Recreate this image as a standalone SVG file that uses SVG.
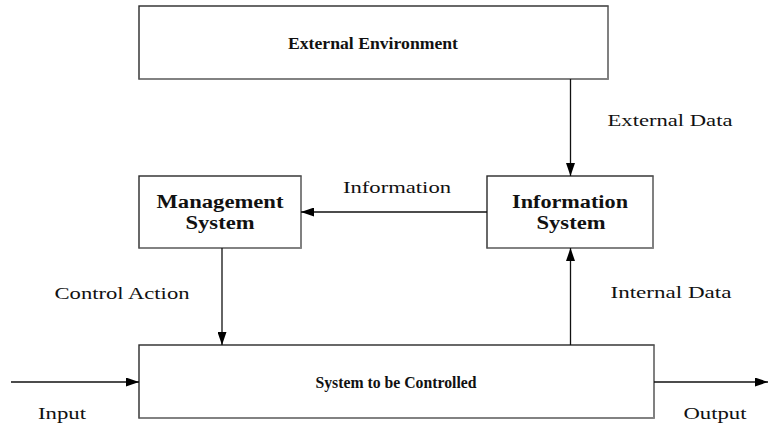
<svg xmlns="http://www.w3.org/2000/svg" width="768" height="423" viewBox="0 0 768 423">
  <style>
    .box { fill: #fff; stroke: #2a2a2a; stroke-width: 1.4; }
    .shade { fill: none; stroke: #8a8a8a; stroke-width: 1.4; }
    .title { font-family: "Liberation Serif", "Times New Roman", serif; font-size: 18px; font-weight: bold; fill: #111; text-anchor: middle; }
    .title.wide { font-size: 17px; }
    .label { font-family: "Liberation Serif", "Times New Roman", serif; font-size: 17px; fill: #111; text-anchor: middle; }
    .wire { fill: none; stroke: #111; stroke-width: 1.3; marker-end: url(#head); }
  </style>
  <defs>
    <marker id="head" viewBox="0 0 13 9" refX="13" refY="4.5" markerWidth="13" markerHeight="9" markerUnits="userSpaceOnUse" orient="auto">
      <path d="M0,0 L13,4.5 L0,9 z" fill="#000"/>
    </marker>
  </defs>

  <g id="external-environment">
    <rect class="box" x="139" y="6" width="469" height="73"/>
    <path class="shade" d="M139.5,79 H608 V6.5"/>
    <text class="title wide" x="373" y="49" textLength="170" lengthAdjust="spacingAndGlyphs">External Environment</text>
  </g>

  <g id="management-system">
    <rect class="box" x="139" y="176" width="162" height="72"/>
    <path class="shade" d="M139.5,248 H301 V176.5"/>
    <text class="title" x="220" y="208" textLength="127" lengthAdjust="spacingAndGlyphs">Management</text>
    <text class="title" x="220" y="229" textLength="69" lengthAdjust="spacingAndGlyphs">System</text>
  </g>

  <g id="information-system">
    <rect class="box" x="487" y="176" width="166" height="72"/>
    <path class="shade" d="M487.5,248 H653 V176.5"/>
    <text class="title" x="570" y="208" textLength="116" lengthAdjust="spacingAndGlyphs">Information</text>
    <text class="title" x="571" y="229" textLength="69" lengthAdjust="spacingAndGlyphs">System</text>
  </g>

  <g id="system-to-be-controlled">
    <rect class="box" x="139" y="345" width="515" height="73"/>
    <path class="shade" d="M139.5,418 H654 V345.5"/>
    <text class="title wide" x="396" y="388" textLength="161" lengthAdjust="spacingAndGlyphs">System to be Controlled</text>
  </g>

  <g id="connectors">
    <line class="wire" x1="570.5" y1="79" x2="570.5" y2="176"/>
    <line class="wire" x1="487" y1="212" x2="301" y2="212"/>
    <line class="wire" x1="222" y1="248" x2="222" y2="345"/>
    <line class="wire" x1="570.5" y1="345" x2="570.5" y2="248"/>
    <line class="wire" x1="11" y1="382" x2="139" y2="382"/>
    <line class="wire" x1="654" y1="382" x2="768" y2="382"/>
  </g>

  <g id="labels">
    <text class="label" x="670" y="126" textLength="125" lengthAdjust="spacingAndGlyphs">External Data</text>
    <text class="label" x="397" y="193" textLength="108" lengthAdjust="spacingAndGlyphs">Information</text>
    <text class="label" x="122" y="299" textLength="135" lengthAdjust="spacingAndGlyphs">Control Action</text>
    <text class="label" x="671" y="298" textLength="121" lengthAdjust="spacingAndGlyphs">Internal Data</text>
    <text class="label" x="62" y="419" textLength="48" lengthAdjust="spacingAndGlyphs">Input</text>
    <text class="label" x="715" y="419" textLength="63" lengthAdjust="spacingAndGlyphs">Output</text>
  </g>
</svg>
